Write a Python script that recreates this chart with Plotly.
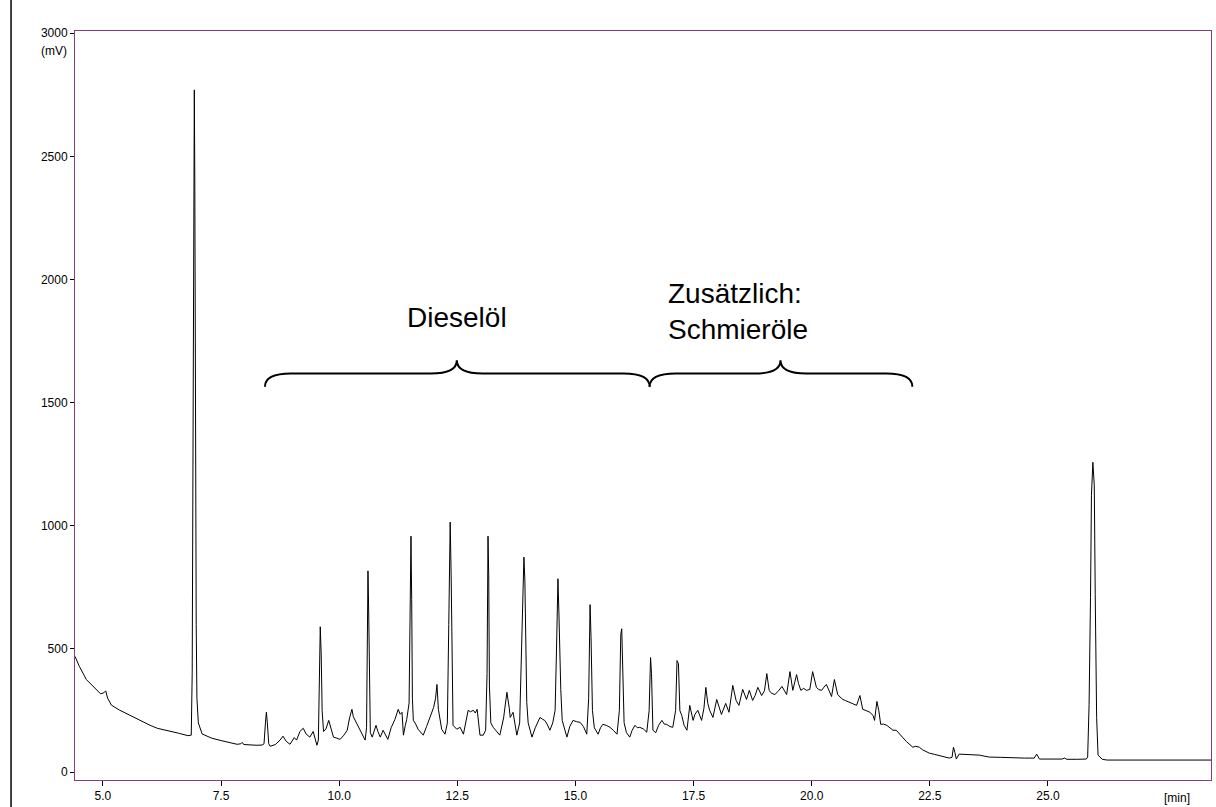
import plotly.graph_objects as go

# ---- chromatogram data ----
time_min = [
    4.41, 4.50, 4.65, 4.80, 4.95, 5.02, 5.06, 5.10, 5.18, 5.35, 5.58, 5.80, 6.00, 6.15, 6.40, 6.60, 6.80,
    6.87, 6.89, 6.91, 6.925, 6.935, 6.945, 6.96, 6.975, 6.99, 7.02, 7.10, 7.30, 7.48, 7.70, 7.84, 7.92,
    7.95, 7.98, 8.10, 8.26, 8.37, 8.41, 8.44, 8.46, 8.48, 8.51, 8.54, 8.65, 8.75, 8.81, 8.88, 8.96, 9.05,
    9.10, 9.17, 9.24, 9.30, 9.38, 9.45, 9.53, 9.56, 9.58, 9.60, 9.62, 9.64, 9.67, 9.72, 9.78, 9.82, 9.88,
    9.95, 10.02, 10.10, 10.17, 10.22, 10.27, 10.30, 10.34, 10.40, 10.44, 10.50, 10.55, 10.58, 10.595,
    10.61, 10.625, 10.64, 10.66, 10.70, 10.78, 10.82, 10.87, 10.93, 10.98, 11.03, 11.10, 11.18, 11.25,
    11.29, 11.33, 11.36, 11.40, 11.43, 11.48, 11.505, 11.52, 11.535, 11.55, 11.57, 11.62, 11.67, 11.72,
    11.78, 11.85, 11.92, 12.00, 12.04, 12.07, 12.10, 12.13, 12.17, 12.24, 12.29, 12.32, 12.35, 12.37,
    12.39, 12.41, 12.49, 12.56, 12.63, 12.68, 12.73, 12.78, 12.84, 12.88, 12.92, 12.98, 13.05, 13.10,
    13.13, 13.15, 13.165, 13.18, 13.21, 13.26, 13.33, 13.40, 13.48, 13.55, 13.60, 13.62, 13.68, 13.72,
    13.76, 13.82, 13.88, 13.91, 13.93, 13.95, 13.97, 14.00, 14.08, 14.15, 14.25, 14.30, 14.35, 14.40,
    14.46, 14.52, 14.57, 14.60, 14.63, 14.65, 14.67, 14.69, 14.72, 14.77, 14.82, 14.88, 14.95, 15.02,
    15.10, 15.17, 15.24, 15.28, 15.31, 15.33, 15.36, 15.40, 15.48, 15.53, 15.58, 15.65, 15.73, 15.80,
    15.88, 15.93, 15.96, 15.98, 16.00, 16.03, 16.08, 16.15, 16.20, 16.26, 16.31, 16.36, 16.44, 16.51,
    16.56, 16.59, 16.61, 16.64, 16.70, 16.76, 16.83, 16.88, 16.93, 17.00, 17.06, 17.12, 17.15, 17.18,
    17.21, 17.25, 17.30, 17.36, 17.42, 17.49, 17.53, 17.59, 17.67, 17.72, 17.76, 17.80, 17.84, 17.91,
    17.99, 18.04, 18.09, 18.18, 18.25, 18.33, 18.40, 18.46, 18.54, 18.62, 18.68, 18.75, 18.80, 18.86,
    18.94, 19.00, 19.05, 19.10, 19.15, 19.22, 19.30, 19.37, 19.42, 19.47, 19.54, 19.60, 19.68, 19.72,
    19.77, 19.83, 19.89, 19.96, 20.02, 20.10, 20.15, 20.21, 20.26, 20.31, 20.37, 20.42, 20.48, 20.55,
    20.60, 20.66, 20.72, 20.80, 20.88, 20.95, 21.02, 21.08, 21.15, 21.23, 21.30, 21.33, 21.38, 21.42,
    21.46, 21.52, 21.59, 21.65, 21.72, 21.79, 21.85, 21.92, 22.00, 22.07, 22.14, 22.20, 22.28, 22.35,
    22.49, 22.60, 22.75, 22.91, 22.97, 23.00, 23.03, 23.06, 23.12, 23.20, 23.35, 23.55, 23.65, 23.76,
    24.00, 24.25, 24.50, 24.71, 24.76, 24.82, 25.00, 25.30, 25.35, 25.40, 25.60, 25.81, 25.84, 25.87,
    25.90, 25.92, 25.95, 25.98, 26.00, 26.03, 26.06, 26.15, 26.25, 27.00, 28.50,
]
signal_mv = [
    470, 430, 376, 345, 318, 322, 330, 300, 272, 252, 230, 208, 190, 178, 168, 158, 148,
    150, 400, 1500, 2470, 2770, 2420, 1300, 600, 300, 200, 155, 138, 129, 118, 113, 115,
    121, 112, 110, 109, 110, 115, 200, 243, 200, 115, 105, 112, 130, 146, 125, 113, 140,
    130, 165, 178, 155, 142, 165, 109, 130, 400, 590, 480, 250, 165, 175, 210, 180, 142,
    138, 133, 150, 170, 220, 255, 225, 210, 190, 170, 150, 130, 180, 500,
    817, 650, 350, 160, 142, 190, 165, 142, 170, 150, 133, 180, 214, 255,
    235, 243, 150, 190, 214, 280, 650, 958, 700, 300, 210, 195, 174, 165,
    150, 185, 222, 263, 300, 356, 255, 215, 174, 154, 200, 600, 1015, 800,
    350, 190, 174, 182, 154, 200, 251, 245, 251, 240, 255, 150, 150, 170,
    400, 958, 800, 350, 200, 182, 165, 150, 220, 324, 260, 222, 243, 200,
    150, 200, 600, 873, 780, 400, 283, 200, 142, 180, 222, 215, 210, 195,
    170, 200, 251, 500, 785, 650, 400, 336, 210, 170, 142, 185, 210, 205,
    202, 185, 154, 300, 680, 550, 250, 180, 154, 180, 194, 190, 182, 170,
    154, 250, 560, 582, 450, 200, 160, 142, 170, 190, 180, 182, 175, 162,
    250, 465, 400, 170, 160, 190, 210, 195, 194, 185, 182, 250, 453, 440,
    250, 230, 190, 170, 271, 210, 235, 251, 210, 260, 344, 280, 251, 222,
    295, 260, 234, 279, 243, 352, 291, 271, 336, 295, 332, 291, 310, 344,
    311, 330, 400, 332, 320, 315, 330, 348, 330, 315, 408, 332, 396, 360,
    332, 340, 332, 336, 408, 344, 335, 332, 345, 356, 330, 307, 376, 315,
    305, 295, 290, 283, 275, 271, 311, 255, 250, 243, 230, 210, 287, 250,
    194, 195, 190, 180, 170, 170, 155, 142, 125, 112, 101, 105, 101, 90,
    77, 72, 65, 57, 60, 101, 80, 53, 73, 72, 72, 69, 65, 61,
    60, 57, 57, 57, 73, 53, 53, 53, 57, 52, 52, 53, 61, 275,
    708, 1124, 1258, 1165, 720, 222, 69, 52, 49, 49, 49,
]

x_tick_vals = [5.0, 7.5, 10.0, 12.5, 15.0, 17.5, 20.0, 22.5, 25.0]
y_tick_vals = [0, 500, 1000, 1500, 2000, 2500, 3000]

# brace annotations: (start, tip, end) in minutes
brace_start = [8.43, 16.57]
brace_tip = [12.49, 19.34]
brace_end = [16.57, 22.13]
brace_labels = ["Dieselöl", "Zusätzlich:<br>Schmieröle"]

X_RANGE = [4.41, 28.45]
Y_RANGE = [-32, 3009]

fig = go.Figure()
fig.add_trace(go.Scatter(
    x=time_min, y=signal_mv, mode="lines",
    line=dict(color="black", width=1), showlegend=False, hoverinfo="skip",
))

# braces
y_end, y_flat, y_top = 1565, 1618, 1672
w = 0.55
for x0, xt, x1 in zip(brace_start, brace_tip, brace_end):
    path = (
        f"M {x0},{y_end} Q {x0},{y_flat} {x0 + w},{y_flat} "
        f"L {xt - w},{y_flat} Q {xt},{y_flat} {xt},{y_top} "
        f"Q {xt},{y_flat} {xt + w},{y_flat} "
        f"L {x1 - w},{y_flat} Q {x1},{y_flat} {x1},{y_end}"
    )
    fig.add_shape(type="path", path=path, xref="x", yref="y",
                  line=dict(color="black", width=2))

fig.add_annotation(x=brace_tip[0], y=1844, xref="x", yref="y", text=brace_labels[0],
                   showarrow=False, xanchor="center", yanchor="middle",
                   font=dict(family="Liberation Sans", size=28, color="black"))
fig.add_annotation(x=16.91, y=1872, xref="x", yref="y", text=brace_labels[1],
                   showarrow=False, xanchor="left", yanchor="middle", align="left",
                   font=dict(family="Liberation Sans", size=28, color="black"))

# unit labels
fig.add_annotation(x=0, y=3000, xref="paper", yref="y", text="(mV)", showarrow=False,
                   xanchor="right", yanchor="middle", xshift=-6, yshift=-18,
                   font=dict(family="Liberation Sans", size=12, color="black"))
fig.add_annotation(x=27.72, y=0, xref="x", yref="paper", text="[min]", showarrow=False,
                   xanchor="center", yanchor="top", yshift=-9,
                   font=dict(family="Liberation Sans", size=12, color="black"))

# window edge line on the left
fig.add_shape(type="line", xref="paper", yref="paper", x0=-0.0563, x1=-0.0563, y0=-0.1, y1=1.1,
              line=dict(color="black", width=1.5))

fig.update_layout(
    width=1216, height=807,
    margin=dict(l=75, r=4, t=31, b=24),
    paper_bgcolor="white", plot_bgcolor="white",
    font=dict(family="Liberation Sans", size=12, color="black"),
)
fig.update_xaxes(
    range=X_RANGE, tickvals=x_tick_vals, tickformat=".1f",
    showline=True, linecolor="#7F3F7F", linewidth=1, mirror=True,
    ticks="outside", ticklen=5, tickcolor="black", tickwidth=1,
    showgrid=False, zeroline=False,
    tickfont=dict(family="Liberation Sans", size=12, color="black"),
)
fig.update_yaxes(
    range=Y_RANGE, tickvals=y_tick_vals,
    showline=True, linecolor="#7F3F7F", linewidth=1, mirror=True,
    ticks="outside", ticklen=4, tickcolor="black", tickwidth=1,
    showgrid=False, zeroline=False,
    tickfont=dict(family="Liberation Sans", size=12, color="black"),
)

fig.write_html("out.html")
